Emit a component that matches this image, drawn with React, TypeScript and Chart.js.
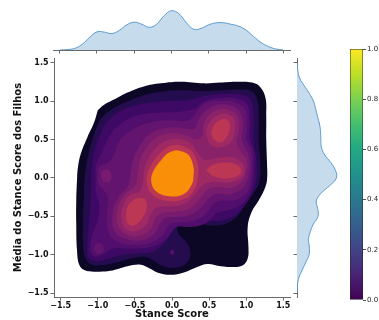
import React, { useEffect, useRef } from "react";
import { Chart, registerables } from "chart.js";

Chart.register(...registerables);
Chart.defaults.font.family = "'DejaVu Sans', sans-serif";

type Pt = [number, number];

// ---------- axis values ----------
const xTicks = [-1.5, -1.0, -0.5, 0.0, 0.5, 1.0, 1.5];
const yTicks = [-1.5, -1.0, -0.5, 0.0, 0.5, 1.0, 1.5];
const xLimits = [-1.59, 1.59];
const yLimits = [-1.55, 1.56];
const colorbarTicks = [0.0, 0.2, 0.4, 0.6, 0.8, 1.0];
const colorbarRange: [number, number] = [0, 1];

// ---------- marginal densities ----------
const xMarginGrid = [-1.5, -1.4, -1.3, -1.2, -1.1, -1.0, -0.9, -0.8, -0.7, -0.6, -0.5, -0.4, -0.3, -0.2, -0.1, 0.0, 0.1, 0.2, 0.3, 0.4, 0.5, 0.6, 0.7, 0.8, 0.9, 1.0, 1.1, 1.2, 1.3, 1.4, 1.5];
const xMarginDensity = [0, 0.007, 0.029, 0.099, 0.225, 0.324, 0.319, 0.293, 0.351, 0.45, 0.497, 0.461, 0.405, 0.459, 0.612, 0.702, 0.648, 0.486, 0.369, 0.387, 0.45, 0.486, 0.486, 0.459, 0.427, 0.356, 0.243, 0.135, 0.063, 0.018, 0];
const yMarginGrid = [-1.5, -1.4, -1.3, -1.2, -1.1, -1.0, -0.9, -0.8, -0.7, -0.6, -0.5, -0.4, -0.3, -0.2, -0.1, 0.0, 0.1, 0.2, 0.3, 0.4, 0.5, 0.6, 0.7, 0.8, 0.9, 1.0, 1.1, 1.2, 1.3, 1.4, 1.5];
const yMarginDensity = [0, 0.008, 0.036, 0.1, 0.17, 0.236, 0.24, 0.224, 0.26, 0.32, 0.412, 0.404, 0.376, 0.47, 0.64, 0.77, 0.75, 0.66, 0.54, 0.476, 0.466, 0.46, 0.44, 0.4, 0.364, 0.32, 0.24, 0.14, 0.05, 0.016, 0];

// ---------- KDE contour polygons (x, y), outermost level first ----------
const level0: Pt[] = [[-1.0, 0.88], [-0.92, 0.95], [-0.76, 1.03], [-0.6, 1.11], [-0.38, 1.19], [-0.15, 1.23], [0.12, 1.25], [0.43, 1.23], [0.65, 1.24], [0.88, 1.25], [1.08, 1.24], [1.19, 1.18], [1.26, 1.04], [1.27, 0.8], [1.27, 0.5], [1.28, 0.2], [1.28, -0.03], [1.24, -0.16], [1.17, -0.29], [1.07, -0.45], [1.02, -0.64], [1.03, -0.9], [1.02, -1.05], [0.95, -1.14], [0.8, -1.16], [0.66, -1.15], [0.48, -1.12], [0.34, -1.16], [0.16, -1.23], [-0.02, -1.26], [-0.2, -1.23], [-0.3, -1.18], [-0.42, -1.13], [-0.6, -1.15], [-0.83, -1.21], [-1.05, -1.22], [-1.18, -1.2], [-1.25, -1.13], [-1.28, -0.94], [-1.29, -0.6], [-1.29, -0.29], [-1.28, -0.03], [-1.27, 0.12], [-1.23, 0.31], [-1.14, 0.53], [-1.05, 0.72]];
const level1: Pt[] = [[-0.97, 0.76], [-0.86, 0.86], [-0.66, 0.97], [-0.4, 1.07], [-0.15, 1.12], [0.12, 1.14], [0.43, 1.13], [0.65, 1.14], [0.88, 1.15], [1.07, 1.13], [1.15, 1.01], [1.17, 0.78], [1.17, 0.48], [1.19, 0.18], [1.18, -0.04], [1.11, -0.18], [1.02, -0.3], [0.94, -0.42], [0.86, -0.52], [0.74, -0.59], [0.6, -0.62], [0.46, -0.61], [0.34, -0.57], [0.22, -0.55], [0.12, -0.59], [0.07, -0.66], [0.1, -0.74], [0.18, -0.82], [0.24, -0.93], [0.24, -1.04], [0.17, -1.13], [0.03, -1.17], [-0.12, -1.15], [-0.24, -1.08], [-0.36, -1.03], [-0.5, -1.04], [-0.7, -1.09], [-0.9, -1.13], [-1.08, -1.13], [-1.17, -1.04], [-1.2, -0.82], [-1.2, -0.56], [-1.19, -0.3], [-1.18, -0.05], [-1.15, 0.2], [-1.09, 0.44], [-1.03, 0.62]];
const level2: Pt[] = [[-0.9, 0.7], [-0.75, 0.84], [-0.55, 0.93], [-0.3, 0.98], [-0.05, 1.0], [0.2, 1.01], [0.42, 1.06], [0.65, 1.09], [0.88, 1.09], [1.05, 1.03], [1.1, 0.8], [1.1, 0.5], [1.14, 0.2], [1.13, -0.05], [1.07, -0.22], [0.98, -0.36], [0.86, -0.48], [0.72, -0.54], [0.58, -0.56], [0.45, -0.54], [0.32, -0.5], [0.2, -0.5], [0.08, -0.56], [0.0, -0.64], [-0.04, -0.76], [-0.12, -0.86], [-0.26, -0.96], [-0.45, -0.98], [-0.65, -1.0], [-0.85, -1.05], [-1.0, -1.08], [-1.12, -1.04], [-1.14, -0.85], [-1.12, -0.6], [-1.1, -0.35], [-1.09, -0.1], [-1.08, 0.15], [-1.04, 0.38], [-0.97, 0.56]];
const level3: Pt[] = [[-0.78, 0.64], [-0.6, 0.76], [-0.38, 0.83], [-0.15, 0.85], [0.1, 0.86], [0.3, 0.9], [0.45, 1.0], [0.65, 1.04], [0.88, 1.03], [1.02, 0.95], [1.05, 0.72], [1.05, 0.5], [1.1, 0.36], [1.11, 0.16], [1.09, -0.06], [1.02, -0.26], [0.88, -0.38], [0.72, -0.43], [0.6, -0.46], [0.5, -0.56], [0.38, -0.62], [0.22, -0.64], [0.06, -0.64], [0.0, -0.7], [-0.08, -0.8], [-0.22, -0.88], [-0.42, -0.92], [-0.62, -0.92], [-0.8, -0.92], [-0.94, -1.0], [-1.05, -1.02], [-1.1, -0.93], [-1.08, -0.75], [-1.0, -0.55], [-0.98, -0.35], [-1.02, -0.2], [-1.03, 0.0], [-1.02, 0.18], [-0.96, 0.3], [-0.88, 0.48]];
const level3Dot: Pt[] = [[-0.03, -0.97], [-0.01, -0.94], [0.02, -0.94], [0.03, -0.97], [0.02, -1.0], [-0.01, -1.0]];
const level4: Pt[] = [[-0.62, 0.58], [-0.45, 0.67], [-0.25, 0.73], [0.0, 0.75], [0.18, 0.74], [0.27, 0.78], [0.36, 0.9], [0.5, 0.99], [0.68, 1.0], [0.86, 0.98], [0.99, 0.88], [1.01, 0.66], [1.0, 0.5], [1.06, 0.38], [1.08, 0.18], [1.06, -0.04], [1.0, -0.2], [0.84, -0.29], [0.64, -0.3], [0.54, -0.36], [0.44, -0.48], [0.28, -0.56], [0.06, -0.58], [-0.05, -0.62], [-0.12, -0.74], [-0.28, -0.84], [-0.48, -0.87], [-0.68, -0.85], [-0.84, -0.74], [-0.88, -0.5], [-0.86, -0.28], [-0.92, -0.16], [-0.99, -0.08], [-1.0, 0.08], [-0.96, 0.16], [-0.86, 0.2], [-0.78, 0.3], [-0.72, 0.46]];
const level4Core: Pt[] = [[-1.06, -0.92], [-1.03, -0.86], [-0.96, -0.85], [-0.92, -0.9], [-0.94, -0.97], [-1.01, -0.99]];
const level5: Pt[] = [[-0.2, 0.63], [0.03, 0.66], [0.2, 0.64], [0.3, 0.64], [0.36, 0.76], [0.46, 0.88], [0.6, 0.95], [0.76, 0.95], [0.9, 0.88], [0.96, 0.7], [0.94, 0.52], [0.97, 0.42], [1.03, 0.3], [1.04, 0.1], [0.98, -0.1], [0.8, -0.21], [0.6, -0.21], [0.5, -0.26], [0.4, -0.38], [0.25, -0.48], [0.05, -0.51], [-0.08, -0.52], [-0.16, -0.6], [-0.24, -0.73], [-0.4, -0.81], [-0.6, -0.8], [-0.77, -0.7], [-0.8, -0.45], [-0.72, -0.25], [-0.6, -0.12], [-0.56, 0.05], [-0.52, 0.25], [-0.42, 0.44], [-0.32, 0.56]];
const level5Left: Pt[] = [[-0.96, 0.02], [-0.94, 0.09], [-0.87, 0.11], [-0.82, 0.06], [-0.82, -0.02], [-0.87, -0.06], [-0.93, -0.04]];
const level6: Pt[] = [[-0.1, 0.57], [0.05, 0.58], [0.2, 0.55], [0.33, 0.5], [0.41, 0.55], [0.42, 0.68], [0.5, 0.82], [0.62, 0.89], [0.76, 0.89], [0.88, 0.81], [0.9, 0.62], [0.87, 0.46], [0.93, 0.34], [1.0, 0.24], [1.0, 0.08], [0.93, -0.06], [0.78, -0.13], [0.6, -0.12], [0.47, -0.16], [0.37, -0.27], [0.24, -0.4], [0.04, -0.44], [-0.12, -0.45], [-0.22, -0.53], [-0.28, -0.66], [-0.42, -0.75], [-0.6, -0.74], [-0.73, -0.62], [-0.73, -0.4], [-0.64, -0.22], [-0.5, -0.1], [-0.46, 0.06], [-0.43, 0.24], [-0.32, 0.42], [-0.22, 0.52]];
const level7: Pt[] = [[-0.02, 0.5], [0.12, 0.5], [0.25, 0.45], [0.35, 0.32], [0.44, 0.23], [0.56, 0.25], [0.7, 0.27], [0.87, 0.25], [0.97, 0.15], [0.95, 0.02], [0.78, -0.06], [0.58, -0.05], [0.42, -0.09], [0.31, -0.21], [0.18, -0.33], [0.0, -0.37], [-0.18, -0.38], [-0.28, -0.46], [-0.34, -0.6], [-0.48, -0.69], [-0.62, -0.67], [-0.68, -0.54], [-0.66, -0.36], [-0.56, -0.22], [-0.43, -0.17], [-0.39, -0.03], [-0.37, 0.13], [-0.26, 0.34], [-0.13, 0.46]];
const level7UpperRight: Pt[] = [[0.49, 0.47], [0.46, 0.6], [0.52, 0.74], [0.63, 0.82], [0.75, 0.83], [0.84, 0.75], [0.84, 0.58], [0.78, 0.45], [0.65, 0.4], [0.55, 0.41]];
const level8Center: Pt[] = [[0.06, 0.43], [0.18, 0.4], [0.28, 0.33], [0.35, 0.16], [0.35, 0.02], [0.32, -0.11], [0.2, -0.26], [-0.04, -0.3], [-0.26, -0.22], [-0.34, -0.05], [-0.31, 0.11], [-0.18, 0.3], [-0.06, 0.4]];
const level8UpperRight: Pt[] = [[0.56, 0.5], [0.53, 0.58], [0.57, 0.69], [0.65, 0.75], [0.73, 0.76], [0.78, 0.7], [0.77, 0.6], [0.72, 0.51], [0.64, 0.46]];
const level8Right: Pt[] = [[0.46, 0.1], [0.55, 0.17], [0.7, 0.2], [0.85, 0.18], [0.93, 0.11], [0.89, 0.03], [0.73, -0.01], [0.56, 0.02]];
const level8LowerLeft: Pt[] = [[-0.62, -0.52], [-0.6, -0.38], [-0.52, -0.29], [-0.42, -0.26], [-0.35, -0.3], [-0.35, -0.42], [-0.42, -0.55], [-0.52, -0.62], [-0.59, -0.6]];
const level9Peak: Pt[] = [[0.05, 0.36], [0.15, 0.34], [0.23, 0.29], [0.29, 0.14], [0.29, 0.03], [0.27, -0.08], [0.16, -0.21], [-0.04, -0.24], [-0.22, -0.17], [-0.28, -0.04], [-0.25, 0.09], [-0.13, 0.25], [-0.04, 0.33]];

const contourLevels: Pt[][][] = [
  [level0],
  [level1],
  [level2],
  [level3, level3Dot],
  [level4, level4Core],
  [level5, level5Left],
  [level6],
  [level7, level7UpperRight],
  [level8Center, level8UpperRight, level8Right, level8LowerLeft],
  [level9Peak],
];

// ---------- styles ----------
const levelColors = ["#0b0724", "#240c4f", "#3d0965", "#510e6c", "#63146e", "#761b6d", "#8a226a", "#9f2a63", "#bc3754", "#f98e09"];
const viridisStops = ["#440154", "#482475", "#414487", "#355f8d", "#2a788e", "#21918c", "#22a884", "#44bf70", "#7ad151", "#bddf26", "#fde725"];
const spineColor = "#444444";
const textColor = "#111111";
const fillBlue = "#c6dbec";
const lineBlue = "#5a9bd0";

const fmt = (v: number) => (v < 0 ? "\u2212" : "") + Math.abs(v).toFixed(1);
const closed = (poly: Pt[]) => [...poly, poly[0]].map(([x, y]) => ({ x, y }));

export default function App() {
  const mainRef = useRef<HTMLCanvasElement>(null);
  const topRef = useRef<HTMLCanvasElement>(null);
  const rightRef = useRef<HTMLCanvasElement>(null);
  const cbRef = useRef<HTMLCanvasElement>(null);

  useEffect(() => {
    const charts: Chart[] = [];
    const tickFont = { family: "'DejaVu Sans', sans-serif", size: 8, weight: "bold" as const };
    const titleFont = { family: "'DejaVu Sans', sans-serif", size: 10, weight: "bold" as const };

    // main contour plot
    const datasets: any[] = [];
    for (let li = contourLevels.length - 1; li >= 0; li--) {
      for (const poly of contourLevels[li]) {
        datasets.push({
          data: closed(poly),
          backgroundColor: levelColors[li],
          borderColor: levelColors[li],
          borderWidth: 0,
          fill: "shape",
          pointRadius: 0,
          tension: 0.4,
        });
      }
    }
    charts.push(
      new Chart(mainRef.current!, {
        type: "line",
        data: { datasets },
        options: {
          responsive: false,
          animation: false,
          events: [],
          layout: { padding: { left: 0, top: 58, right: 10, bottom: 0 } },
          plugins: { legend: { display: false }, tooltip: { enabled: false } },
          scales: {
            x: {
              type: "linear",
              min: xLimits[0],
              max: xLimits[1],
              afterBuildTicks: (s: any) => { s.ticks = xTicks.map((v) => ({ value: v })); },
              afterFit: (s: any) => { s.height = 23; },
              ticks: { font: tickFont, color: textColor, padding: 1, maxRotation: 0, autoSkip: false, callback: (v: any) => fmt(Number(v)) },
              grid: { display: true, drawOnChartArea: false, drawTicks: true, tickLength: 3.5, tickColor: spineColor, tickWidth: 0.8 },
              border: { display: true, color: spineColor, width: 0.8 },
              title: { display: true, text: "Stance Score", font: titleFont, color: textColor, padding: { top: 0, bottom: 0 } },
            },
            y: {
              type: "linear",
              min: yLimits[0],
              max: yLimits[1],
              afterBuildTicks: (s: any) => { s.ticks = yTicks.map((v) => ({ value: v })); },
              afterFit: (s: any) => { s.width = 54; },
              ticks: { font: tickFont, color: textColor, padding: 2, autoSkip: false, callback: (v: any) => fmt(Number(v)) },
              grid: { display: true, drawOnChartArea: false, drawTicks: true, tickLength: 3.5, tickColor: spineColor, tickWidth: 0.8 },
              border: { display: true, color: spineColor, width: 0.8 },
              title: { display: true, text: "Média do Stance Score dos Filhos", font: titleFont, color: textColor, padding: { top: 12, bottom: 0 } },
            },
          },
        },
      })
    );

    // top marginal
    charts.push(
      new Chart(topRef.current!, {
        type: "line",
        data: {
          datasets: [{
            data: xMarginGrid.map((x, i) => ({ x, y: xMarginDensity[i] })),
            backgroundColor: fillBlue,
            borderColor: lineBlue,
            borderWidth: 1,
            fill: "origin",
            pointRadius: 0,
            tension: 0.4,
          }],
        },
        options: {
          responsive: false,
          animation: false,
          events: [],
          layout: { padding: { left: 53, top: 8, right: 10, bottom: 0 } },
          plugins: { legend: { display: false }, tooltip: { enabled: false } },
          scales: {
            x: {
              type: "linear",
              min: xLimits[0],
              max: xLimits[1],
              afterBuildTicks: (s: any) => { s.ticks = xTicks.map((v) => ({ value: v })); },
              afterFit: (s: any) => { s.height = 6; },
              ticks: { display: false },
              grid: { display: true, drawOnChartArea: false, drawTicks: true, tickLength: 3.5, tickColor: spineColor, tickWidth: 0.8 },
              border: { display: true, color: spineColor, width: 0.8 },
            },
            y: { type: "linear", min: 0, max: 0.75, display: false },
          },
        },
      })
    );

    // right marginal
    const rightPts = yMarginGrid.map((y, i) => ({ x: yMarginDensity[i], y }));
    charts.push(
      new Chart(rightRef.current!, {
        type: "line",
        data: {
          datasets: [{
            data: rightPts,
            backgroundColor: fillBlue,
            borderColor: lineBlue,
            borderWidth: 1,
            fill: "shape",
            pointRadius: 0,
            tension: 0.4,
          }],
        },
        options: {
          responsive: false,
          animation: false,
          events: [],
          layout: { padding: { left: 0, top: 58, right: 10, bottom: 23 } },
          plugins: { legend: { display: false }, tooltip: { enabled: false } },
          scales: {
            x: { type: "linear", min: 0, max: 0.84, display: false },
            y: {
              type: "linear",
              min: yLimits[0],
              max: yLimits[1],
              afterBuildTicks: (s: any) => { s.ticks = yTicks.map((v) => ({ value: v })); },
              afterFit: (s: any) => { s.width = 7; },
              ticks: { display: false },
              grid: { display: true, drawOnChartArea: false, drawTicks: true, tickLength: 3.5, tickColor: spineColor, tickWidth: 0.8 },
              border: { display: true, color: spineColor, width: 0.8 },
            },
          },
        },
      })
    );

    // colorbar
    charts.push(
      new Chart(cbRef.current!, {
        type: "bar",
        data: {
          labels: [""],
          datasets: [{
            data: [colorbarRange as any],
            backgroundColor: (ctx: any) => {
              const chart = ctx.chart;
              const area = chart.chartArea;
              if (!area) return viridisStops[0];
              const g = chart.ctx.createLinearGradient(0, area.bottom, 0, area.top);
              viridisStops.forEach((c, i) => g.addColorStop(i / (viridisStops.length - 1), c));
              return g;
            },
            borderColor: "#222222",
            borderWidth: 0.8,
            borderSkipped: false,
            barPercentage: 1,
            categoryPercentage: 1,
          }],
        },
        options: {
          responsive: false,
          animation: false,
          events: [],
          layout: { padding: { left: 10, top: 49, right: 0, bottom: 20 } },
          plugins: { legend: { display: false }, tooltip: { enabled: false } },
          scales: {
            x: { display: false },
            y: {
              position: "right",
              min: colorbarRange[0],
              max: colorbarRange[1],
              afterBuildTicks: (s: any) => { s.ticks = colorbarTicks.map((v) => ({ value: v })); },
              afterFit: (s: any) => { s.width = 37; },
              ticks: { font: { family: "'DejaVu Sans', sans-serif", size: 7 }, color: "#262626", padding: 1, callback: (v: any) => Number(v).toFixed(1) },
              grid: { display: true, drawOnChartArea: false, drawTicks: true, tickLength: 3, tickColor: "#262626", tickWidth: 0.8 },
              border: { display: false },
            },
          },
        },
      })
    );

    return () => charts.forEach((c) => c.destroy());
  }, []);

  const abs = (left: number, top: number): React.CSSProperties => ({ position: "absolute", left, top, display: "block" });

  return (
    <div style={{ position: "fixed", left: 0, top: 0, width: 379, height: 320, overflow: "hidden", background: "#ffffff" }}>
      <canvas ref={mainRef} width={300} height={320} style={abs(0, 0)} />
      <canvas ref={topRef} width={300} height={56} style={abs(0, 0)} />
      <canvas ref={rightRef} width={60} height={320} style={abs(290, 0)} />
      <canvas ref={cbRef} width={60} height={320} style={abs(340, 0)} />
    </div>
  );
}
